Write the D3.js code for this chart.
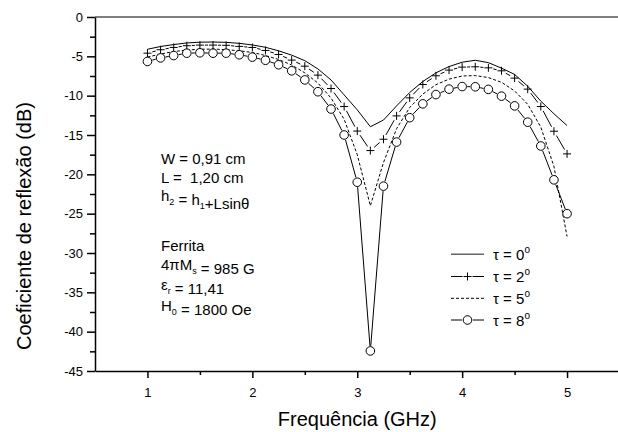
<!DOCTYPE html>
<html>
<head>
<meta charset="utf-8">
<script src="https://cdn.jsdelivr.net/npm/d3@7"></script>
<style>
body { margin: 0; background: #fff; }
text { font-family: "Liberation Sans", Arial, sans-serif; fill: #000; }
</style>
</head>
<body>
<svg width="618" height="432"></svg>
<script>
// ================= DATA =================
var freq = [1.0, 1.125, 1.25, 1.375, 1.5, 1.625, 1.75, 1.875, 2.0, 2.125, 2.25, 2.375, 2.5, 2.625, 2.75, 2.875,
            3.0, 3.125, 3.25, 3.375, 3.5, 3.625, 3.75, 3.875, 4.0, 4.125, 4.25, 4.375, 4.5, 4.625, 4.75, 4.875, 5.0];

var tau0 = [-4.1, -3.75, -3.5, -3.3, -3.2, -3.18, -3.22, -3.35, -3.55, -3.85, -4.3, -4.85, -5.55, -6.6, -8.0, -9.9,
            -11.8, -13.95, -13.1, -11.3, -9.6, -8.2, -7.1, -6.3, -5.75, -5.5, -5.8, -6.5, -7.3, -8.8, -10.7, -12.3, -13.8];

var tau2 = [-4.6, -4.16, -3.87, -3.65, -3.57, -3.57, -3.6, -3.74, -3.87, -4.25, -4.76, -5.48, -6.25, -7.39, -9.09, -11.38,
            -14.5, -16.98, -15.54, -12.57, -10.28, -8.58, -7.47, -6.75, -6.37, -6.33, -6.46, -6.84, -7.77, -9.17, -11.38, -14.52, -17.4];

var tau5 = [-5.1, -4.7, -4.4, -4.2, -4.1, -4.08, -4.15, -4.3, -4.5, -4.9, -5.4, -6.1, -7.1, -8.4, -10.3, -13.0,
            -17.5, -24.0, -18.5, -14.2, -11.5, -9.8, -8.6, -7.9, -7.5, -7.45, -7.7, -8.3, -9.4, -11.1, -14.0, -19.0, -27.9];

var tau8 = [-5.65, -5.2, -4.9, -4.6, -4.55, -4.6, -4.6, -4.8, -5.1, -5.5, -6.07, -6.84, -8.0, -9.5, -11.7, -15.0,
            -21.0, -42.45, -21.5, -15.9, -12.8, -11.04, -9.86, -9.17, -8.84, -8.87, -9.2, -10.06, -11.3, -13.37, -16.4, -20.7, -25.0];

var xTicks = [1, 2, 3, 4, 5];
var xMinor = [1.5, 2.5, 3.5, 4.5];
var yTicks = [0, -5, -10, -15, -20, -25, -30, -35, -40, -45];
var yMinor = [-2.5, -7.5, -12.5, -17.5, -22.5, -27.5, -32.5, -37.5, -42.5];
var legendLabels = ["0", "2", "5", "8"];

// ================= SCALES =================
var svg = d3.select("svg");
var xs = d3.scaleLinear().domain([0.5, 5.5]).range([95, 619.5]);
var ys = d3.scaleLinear().domain([-45, 0]).range([371, 17]);

function pts(vals) { return freq.map(function(f, i) { return [xs(f), ys(vals[i])]; }); }
var line = d3.line();

// ================= AXES =================
svg.append("line")
    .attr("x1", xs(0.5)).attr("x2", xs(5.5))
    .attr("y1", ys(0)).attr("y2", ys(0))
    .attr("stroke", "#555").attr("stroke-width", 1.5);

var gx = svg.append("g").attr("transform", "translate(0," + ys(-45) + ")")
    .call(d3.axisBottom(xs).tickValues(xTicks).tickSize(7).tickSizeOuter(0).tickFormat(d3.format("d")));
svg.append("g").attr("transform", "translate(0," + ys(-45) + ")")
    .call(d3.axisBottom(xs).tickValues(xMinor).tickSize(4).tickSizeOuter(0).tickFormat(""))
    .select(".domain").remove();

var gy = svg.append("g").attr("transform", "translate(" + xs(0.5) + ",0)")
    .call(d3.axisLeft(ys).tickValues(yTicks).tickSize(8).tickSizeOuter(0).tickFormat(function(d) { return String(d); }));
svg.append("g").attr("transform", "translate(" + xs(0.5) + ",0)")
    .call(d3.axisLeft(ys).tickValues(yMinor).tickSize(5).tickSizeOuter(0).tickFormat(""))
    .select(".domain").remove();

svg.selectAll(".domain").attr("stroke-width", 1.5);
svg.selectAll(".tick line").attr("stroke-width", 1.5);
svg.selectAll(".tick text").attr("font-size", 13).attr("font-family", "Liberation Sans, Arial, sans-serif").attr("fill", "#000");
gx.selectAll(".tick text").attr("dy", "1.2em");
gy.selectAll(".tick text").attr("dx", "-1px");

svg.append("text")
    .attr("x", xs(3)).attr("y", 426)
    .attr("text-anchor", "middle").attr("font-size", 20)
    .text("Frequência (GHz)");

svg.append("text")
    .attr("transform", "translate(31," + 226 + ") rotate(-90)")
    .attr("text-anchor", "middle").attr("font-size", 20)
    .text("Coeficiente de reflexão (dB)");

// ================= SERIES =================
var plot = svg.append("g");

// tau = 0 : solid
plot.append("path").attr("d", line(pts(tau0)))
    .attr("fill", "none").attr("stroke", "#000").attr("stroke-width", 1);

// tau = 5 : dashed
plot.append("path").attr("d", line(pts(tau5)))
    .attr("fill", "none").attr("stroke", "#000").attr("stroke-width", 1)
    .attr("stroke-dasharray", "3,2");

// segments with gaps near the symbols
function gapped(p, gap) {
    var segs = [];
    for (var i = 0; i < p.length - 1; i++) {
        var dx = p[i+1][0] - p[i][0], dy = p[i+1][1] - p[i][1];
        var len = Math.sqrt(dx*dx + dy*dy);
        if (len <= 2*gap) continue;
        var ux = dx/len, uy = dy/len;
        segs.push([[p[i][0] + ux*gap, p[i][1] + uy*gap], [p[i+1][0] - ux*gap, p[i+1][1] - uy*gap]]);
    }
    return segs;
}

// tau = 2 : line + plus
var p2 = pts(tau2);
plot.selectAll(".seg2").data(gapped(p2, 5)).enter().append("path")
    .attr("d", function(d) { return line(d); })
    .attr("stroke", "#000").attr("stroke-width", 1).attr("fill", "none");
plot.selectAll(".plus").data(p2).enter().append("path")
    .attr("d", function(d) { return "M" + (d[0]-4) + "," + d[1] + "h8M" + d[0] + "," + (d[1]-4) + "v8"; })
    .attr("stroke", "#000").attr("stroke-width", 1).attr("fill", "none");

// tau = 8 : line + circle
var p8 = pts(tau8);
plot.selectAll(".seg8").data(gapped(p8, 5)).enter().append("path")
    .attr("d", function(d) { return line(d); })
    .attr("stroke", "#000").attr("stroke-width", 1).attr("fill", "none");
plot.selectAll(".circ").data(p8).enter().append("circle")
    .attr("cx", function(d) { return d[0]; }).attr("cy", function(d) { return d[1]; })
    .attr("r", 4.3).attr("fill", "#fff").attr("stroke", "#000").attr("stroke-width", 1);

// ================= ANNOTATIONS =================
function richText(x, y, parts) {
    var t = svg.append("text").attr("x", x).attr("y", y).attr("font-size", 15);
    parts.forEach(function(p) {
        if (typeof p === "string") t.append("tspan").text(p);
        else t.append("tspan").attr("font-size", 9).attr("dy", p.dy).text(p.t);
    });
    return t;
}
richText(161, 163.5, ["W = 0,91 cm"]);
richText(161, 182.5, ["L = \u00a01,20 cm"]);
richText(161, 201, ["h", {t: "2", dy: 4}, {t: "", dy: -4}, " = h", {t: "1", dy: 4}, {t: "", dy: -4}, "+Lsin\u03b8"]);
richText(161, 250.5, ["Ferrita"]);
richText(161, 270, ["4\u03c0M", {t: "s", dy: 4}, {t: "", dy: -4}, " = 985 G"]);
richText(161, 290, ["\u03b5", {t: "r", dy: 4}, {t: "", dy: -4}, " = 11,41"]);
richText(161, 310.5, ["H", {t: "0", dy: 4}, {t: "", dy: -4}, " = 1800 Oe"]);

// ================= LEGEND =================
var legY = [254.3, 276.5, 298.3, 320];
var lx1 = 451, lx2 = 484, lxm = (lx1 + lx2) / 2;
var leg = svg.append("g");
legY.forEach(function(y, i) {
    if (i === 0) {
        leg.append("line").attr("x1", lx1).attr("x2", lx2).attr("y1", y).attr("y2", y)
            .attr("stroke", "#666").attr("stroke-width", 1.5);
    } else if (i === 2) {
        leg.append("line").attr("x1", lx1).attr("x2", lx2).attr("y1", y).attr("y2", y)
            .attr("stroke", "#000").attr("stroke-width", 1).attr("stroke-dasharray", "3,2");
    } else {
        var g = i === 1 ? 5 : 5.5;
        leg.append("line").attr("x1", lx1).attr("x2", lxm - g).attr("y1", y).attr("y2", y).attr("stroke", "#000");
        leg.append("line").attr("x1", lxm + g).attr("x2", lx2).attr("y1", y).attr("y2", y).attr("stroke", "#000");
        if (i === 1) {
            leg.append("path").attr("d", "M" + (lxm-4) + "," + y + "h8M" + lxm + "," + (y-4) + "v8")
                .attr("stroke", "#000").attr("fill", "none");
        } else {
            leg.append("circle").attr("cx", lxm).attr("cy", y).attr("r", 4.3)
                .attr("fill", "#fff").attr("stroke", "#000");
        }
    }
    var t = leg.append("text").attr("x", 493).attr("y", y + 5.5).attr("font-size", 15);
    t.append("tspan").text("\u03c4 = " + legendLabels[i]);
    t.append("tspan").attr("font-size", 10).attr("dy", -7).text("o");
});
</script>
</body>
</html>
